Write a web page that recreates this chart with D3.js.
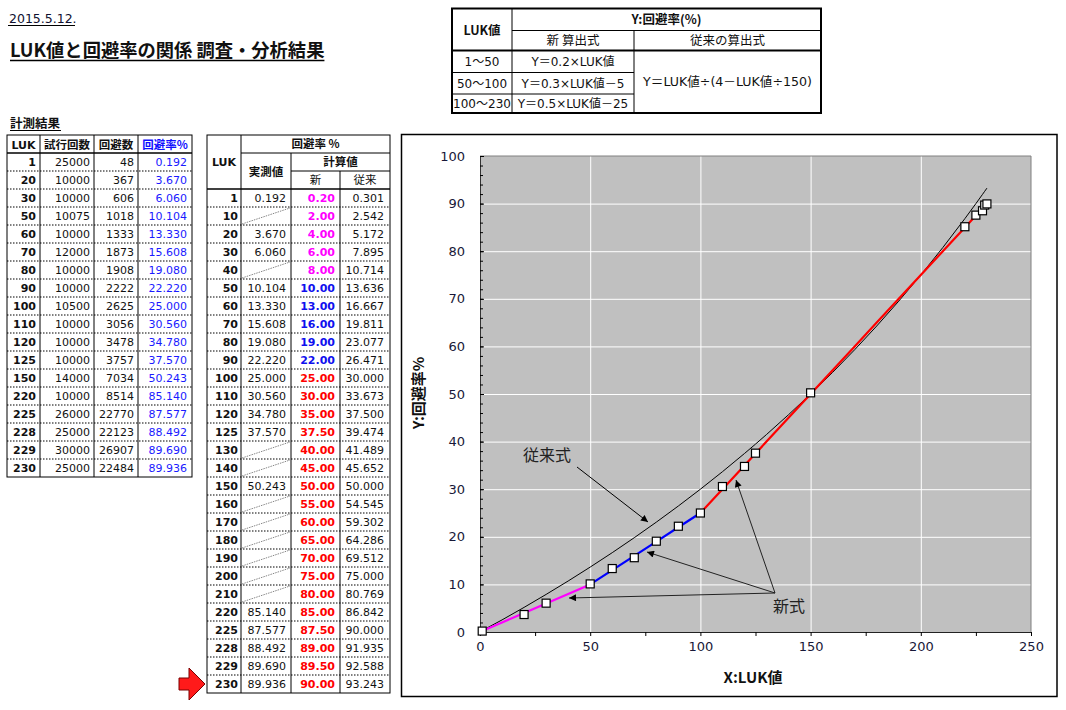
<!DOCTYPE html>
<html><head><meta charset="utf-8">
<script src="https://cdn.jsdelivr.net/npm/d3@7"></script>
<style>
body{margin:0;background:#fff}
svg{display:block}
text{font-family:"DejaVu Sans","Noto Sans CJK JP",sans-serif;fill:#111}
.jp{font-family:"Noto Sans CJK JP","DejaVu Sans",sans-serif}
</style>
</head><body>
<svg id="c" width="1066" height="710"></svg>
<script>
// ---- measured data (計測結果) ----
const measLuk = [1,20,30,50,60,70,80,90,100,110,120,125,150,220,225,228,229,230];
const measTrials = [25000,10000,10000,10075,10000,12000,10000,10000,10500,10000,10000,10000,14000,10000,26000,25000,30000,25000];
const measAvoid = [48,367,606,1018,1333,1873,1908,2222,2625,3056,3478,3757,7034,8514,22770,22123,26907,22484];
const measRate = [0.192,3.670,6.060,10.104,13.330,15.608,19.080,22.220,25.000,30.560,34.780,37.570,50.243,85.140,87.577,88.492,89.690,89.936];

// ---- calculated table ----
const calcLuk = [1,10,20,30,40,50,60,70,80,90,100,110,120,125,130,140,150,160,170,180,190,200,210,220,225,228,229,230];
const calcMeasured = [0.192,null,3.670,6.060,null,10.104,13.330,15.608,19.080,22.220,25.000,30.560,34.780,37.570,null,null,50.243,null,null,null,null,null,null,85.140,87.577,88.492,89.690,89.936];
const calcNew = [0.20,2.00,4.00,6.00,8.00,10.00,13.00,16.00,19.00,22.00,25.00,30.00,35.00,37.50,40.00,45.00,50.00,55.00,60.00,65.00,70.00,75.00,80.00,85.00,87.50,89.00,89.50,90.00];
const calcOld = [0.301,2.542,5.172,7.895,10.714,13.636,16.667,19.811,23.077,26.471,30.000,33.673,37.500,39.474,41.489,45.652,50.000,54.545,59.302,64.286,69.512,75.000,80.769,86.842,90.000,91.935,92.588,93.243];

// ---- formula table ----
const formulaRanges = ["1～50","50～100","100～230"];
const formulaNew = ["Y＝0.2×LUK値","Y＝0.3×LUK値－5","Y＝0.5×LUK値－25"];
const formulaOld = "Y＝LUK値÷(4－LUK値÷150)";

// ---- axis ticks ----
const xTicks = [0,50,100,150,200,250];
const yTicks = [0,10,20,30,40,50,60,70,80,90,100];

const svg = d3.select("#c");
const C_MAG="#ff00ff", C_BLUE="#0000ff", C_RED="#ff0000";

function txt(g,x,y,s,o={}){
  const t=g.append("text").attr("x",x).attr("y",y).text(s)
    .attr("font-size",o.size||11).attr("text-anchor",o.anchor||"end");
  if(o.bold) t.attr("font-weight","bold");
  if(o.color) t.style("fill",o.color);
  if(o.cls) t.attr("class",o.cls);
  return t;
}
function ln(g,x1,y1,x2,y2,o={}){
  const l=g.append("line").attr("x1",x1).attr("y1",y1).attr("x2",x2).attr("y2",y2)
   .attr("stroke",o.color||"#000").attr("stroke-width",o.w||1);
  if(o.dash) l.attr("stroke-dasharray",o.dash);
  return l;
}
const DOT="1.5,1.5";

// ---- titles ----
txt(svg,9,23,"2015.5.12.",{anchor:"start",size:12.5,color:"#101030"});
ln(svg,8,25.5,75,25.5,{w:1});
const ttl=txt(svg,10,57,"LUK値と回避率の関係 調査・分析結果",{anchor:"start",size:18.3,bold:true,cls:"jp"});
const tw=ttl.node().getComputedTextLength();
ln(svg,10,60.5,10+tw,60.5,{w:1.5});
txt(svg,10,128,"計測結果",{anchor:"start",size:12.5,bold:true,cls:"jp"});
ln(svg,10,130.5,61,130.5,{w:1});

// ---- table 1 ----
{
  const g=svg.append("g");
  const cx=[7,40,94,138,192], top=135, hb=153, rh=18, n=measLuk.length, bot=hb+rh*n;
  const hdr=["LUK","試行回数","回避数","回避率%"];
  hdr.forEach((h,i)=>txt(g,(cx[i]+cx[i+1])/2,hb-4.5,h,{anchor:"middle",bold:true,size:i==0?11:11.5,cls:i?"jp":null,color:i==3?"#1010ff":null}));
  measLuk.forEach((v,i)=>{
    const y0=hb+i*rh, b=y0+13;
    txt(g,cx[1]-4,b,v,{bold:true});
    txt(g,cx[2]-4,b,measTrials[i]);
    txt(g,cx[3]-4,b,measAvoid[i]);
    txt(g,cx[4]-5,b,measRate[i].toFixed(3),{color:"#1a1aff"});
    if(i>0) ln(g,cx[0],y0,cx[4],y0,{dash:DOT});
  });
  ln(g,cx[0],hb,cx[4],hb,{w:1.5});
  cx.slice(1,4).forEach(x=>ln(g,x,top,x,bot));
  g.append("rect").attr("x",cx[0]).attr("y",top).attr("width",cx[4]-cx[0]).attr("height",bot-top)
    .attr("fill","none").attr("stroke","#000").attr("stroke-width",1);
}

// ---- table 2 ----
{
  const g=svg.append("g");
  const cx=[207,241,291,340,390], r=[135,153,171,189], rh=18, n=calcLuk.length, hb=r[3], bot=hb+rh*n;
  txt(g,(cx[0]+cx[1])/2,166,"LUK",{anchor:"middle",bold:true});
  txt(g,(cx[1]+cx[4])/2,148,"回避率 %",{anchor:"middle",bold:true,size:11.5,cls:"jp"});
  txt(g,(cx[1]+cx[2])/2,176,"実測値",{anchor:"middle",bold:true,size:11.5,cls:"jp"});
  txt(g,(cx[2]+cx[4])/2,166,"計算値",{anchor:"middle",bold:true,size:11.5,cls:"jp"});
  txt(g,(cx[2]+cx[3])/2,184,"新",{anchor:"middle",size:11.5,cls:"jp"});
  txt(g,(cx[3]+cx[4])/2,184,"従来",{anchor:"middle",size:11.5,cls:"jp"});
  ln(g,cx[1],r[1],cx[4],r[1]);
  ln(g,cx[2],r[2],cx[4],r[2]);
  calcLuk.forEach((v,i)=>{
    const y0=hb+i*rh, b=y0+13;
    txt(g,cx[1]-3,b,v,{bold:true});
    if(calcMeasured[i]!=null) txt(g,cx[2]-5,b,calcMeasured[i].toFixed(3));
    else ln(g,cx[1]+1,y0+rh-1,cx[2]-1,y0+1,{color:"#888",dash:"1.5,1"});
    const col=v<50?C_MAG:(v<100?"#1010ee":C_RED);
    txt(g,cx[3]-5,b,calcNew[i].toFixed(2),{bold:true,color:col});
    txt(g,cx[4]-6,b,calcOld[i].toFixed(3));
    if(i>0) ln(g,cx[0],y0,cx[4],y0,{dash:DOT});
  });
  ln(g,cx[0],hb,cx[4],hb,{w:1.5});
  ln(g,cx[1],r[0],cx[1],bot);
  ln(g,cx[2],r[1],cx[2],bot);
  ln(g,cx[3],r[2],cx[3],bot);
  g.append("rect").attr("x",cx[0]).attr("y",r[0]).attr("width",cx[4]-cx[0]).attr("height",bot-r[0])
    .attr("fill","none").attr("stroke","#000");
  // red arrow
  g.append("polygon").attr("points",[[179,678],[189,678],[189,668],[205,684],[189,700],[189,690],[179,690]].join(" "))
    .attr("fill","#ff1a1a").attr("stroke","#7a0000").attr("stroke-width",1);
}

// ---- table 3 ----
{
  const g=svg.append("g");
  const cx=[452,512,634,821], ry=[8.5,30.5,50.5,72.5,94,113];
  txt(g,(cx[0]+cx[1])/2,34.5,"LUK値",{anchor:"middle",bold:true,size:12.5,cls:"jp"});
  txt(g,(cx[1]+cx[3])/2,24,"Y:回避率(%)",{anchor:"middle",bold:true,size:12.5,cls:"jp"});
  txt(g,(cx[1]+cx[2])/2,45,"新 算出式",{anchor:"middle",size:12.5,cls:"jp"});
  txt(g,(cx[2]+cx[3])/2,45,"従来の算出式",{anchor:"middle",size:12.5,cls:"jp"});
  formulaRanges.forEach((s,i)=>{
    const b=(ry[i+2]+ry[i+3])/2+4.5;
    txt(g,(cx[0]+cx[1])/2,b,s,{anchor:"middle",size:12});
    txt(g,(cx[1]+cx[2])/2,b,formulaNew[i],{anchor:"middle",size:12});
    if(i>0) ln(g,cx[0],ry[i+2],cx[2],ry[i+2]);
  });
  txt(g,(cx[2]+cx[3])/2,(ry[2]+ry[5])/2+4.5,formulaOld,{anchor:"middle",size:12.6});
  ln(g,cx[1],ry[1],cx[3],ry[1]);
  ln(g,cx[0],ry[2],cx[3],ry[2],{w:2});
  ln(g,cx[1],ry[0],cx[1],ry[5]);
  ln(g,cx[2],ry[1],cx[2],ry[5]);
  g.append("rect").attr("x",cx[0]).attr("y",ry[0]).attr("width",cx[3]-cx[0]).attr("height",ry[5]-ry[0])
    .attr("fill","none").attr("stroke","#000").attr("stroke-width",2);
}

// ---- chart ----
svg.append("rect").attr("x",401.5).attr("y",134.5).attr("width",655.5).attr("height",562)
  .attr("fill","#fff").attr("stroke","#000").attr("stroke-width",1.5);

const x=d3.scaleLinear().domain([0,250]).range([480,1031]);
const y=d3.scaleLinear().domain([0,100]).range([632,156]);
const pg=svg.append("g");
pg.append("rect").attr("x",x(0)).attr("y",y(100)).attr("width",x(250)-x(0)).attr("height",y(0)-y(100)).attr("fill","#c0c0c0");
yTicks.filter(v=>v>0&&v<100).forEach(v=>ln(pg,x(0),y(v)+0.5,x(250),y(v)+0.5,{color:"#fff"}));
xTicks.filter(v=>v>0&&v<250).forEach(v=>ln(pg,x(v)+0.5,y(0),x(v)+0.5,y(100),{color:"#fff"}));
ln(pg,x(0),y(100),x(250),y(100),{color:"#808080"});
ln(pg,x(250),y(100),x(250),y(0),{color:"#808080"});

// axes
const yMinor=svg.append("g").attr("transform",`translate(${x(0)},0)`)
  .call(d3.axisLeft(y).tickValues(d3.range(0,101,2)).tickSize(-3).tickFormat(""));
yMinor.select(".domain").attr("stroke","#333");
const yMajor=svg.append("g").attr("transform",`translate(${x(0)},0)`)
  .call(d3.axisLeft(y).tickValues(yTicks).tickSize(-4).tickPadding(15));
yMajor.select(".domain").remove();
yMajor.selectAll("text").attr("font-size",13).style("fill","#181838").attr("font-family",null);

const xAx=svg.append("g").attr("transform",`translate(0,${y(0)})`)
  .call(d3.axisBottom(x).tickValues(d3.range(0,251,25)).tickSize(4).tickPadding(6)
    .tickFormat(v=>xTicks.includes(v)?v:""));
xAx.select(".domain").attr("stroke","#222");
xAx.selectAll("text").attr("font-size",13).style("fill","#181838").attr("font-family",null);

// axis titles
txt(svg,0,0,"Y:回避率%",{anchor:"middle",bold:true,size:15,cls:"jp"})
  .attr("transform","translate(424,393) rotate(-90)");
txt(svg,753,683,"X:LUK値",{anchor:"middle",bold:true,size:15,cls:"jp"});

// lines
const line=d3.line().x(d=>x(d[0])).y(d=>y(d[1]));
const oldPts=calcLuk.map((v,i)=>[v,calcOld[i]]);
svg.append("path").attr("d",line(oldPts)).attr("fill","none").attr("stroke","#000").attr("stroke-width",1);
const newPts=calcLuk.map((v,i)=>[v,calcNew[i]]);
[[0,50,C_MAG],[50,100,C_BLUE],[100,250,C_RED]].forEach(([a,b,c])=>{
  svg.append("path").attr("d",line(newPts.filter(p=>p[0]>=a&&p[0]<=b)))
    .attr("fill","none").attr("stroke",c).attr("stroke-width",2.2);
});
svg.selectAll("rect.pt").data(measLuk.map((v,i)=>[v,measRate[i]])).join("rect").attr("class","pt")
  .attr("x",d=>x(d[0])-4).attr("y",d=>y(d[1])-4).attr("width",8).attr("height",8)
  .attr("fill","#fff").attr("stroke","#000").attr("stroke-width",1.2);

// annotations
svg.append("defs").append("marker").attr("id","ah").attr("viewBox","0 0 10 10").attr("refX",10).attr("refY",5)
  .attr("markerWidth",9).attr("markerHeight",7).attr("markerUnits","userSpaceOnUse").attr("orient","auto")
  .append("path").attr("d","M0,0L10,5L0,10Z").attr("fill","#000");
txt(svg,523,461,"従来式",{anchor:"start",size:16,cls:"jp",color:"#222"});
ln(svg,577,467,648,522,{color:"#000"}).attr("marker-end","url(#ah)");
txt(svg,773,612,"新式",{anchor:"start",size:16,cls:"jp",color:"#222"});
[[736,480],[647,552],[569,598]].forEach(p=>ln(svg,775,593,p[0],p[1],{color:"#222"}).attr("marker-end","url(#ah)"));
</script>
</body></html>
